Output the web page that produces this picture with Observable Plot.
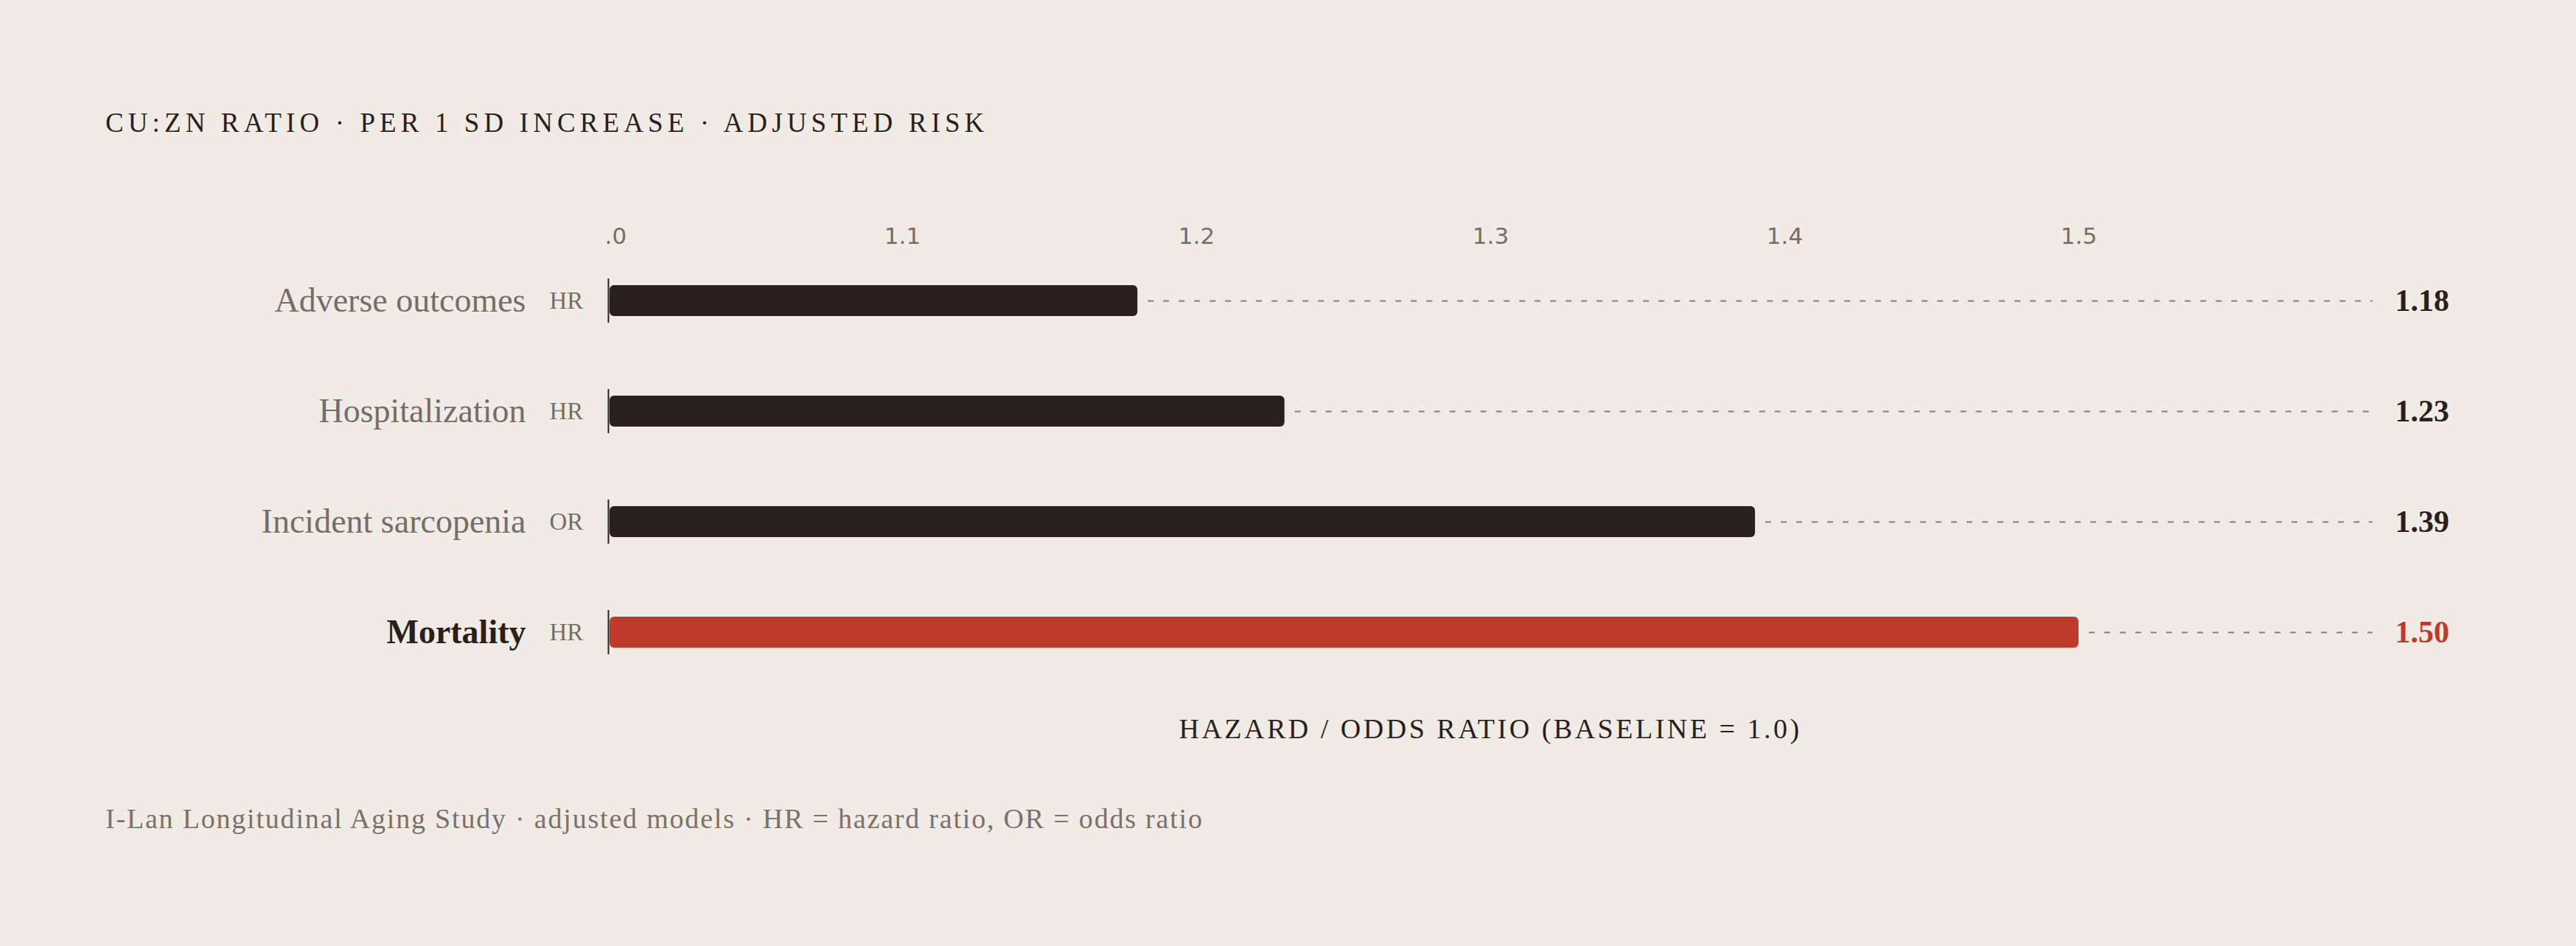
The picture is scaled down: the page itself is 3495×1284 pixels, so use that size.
<!DOCTYPE html>
<html>
<head>
<meta charset="utf-8">
<script src="https://cdn.jsdelivr.net/npm/d3@7"></script>
<script src="https://cdn.jsdelivr.net/npm/@observablehq/plot@0.6"></script>
<style>
  html, body { margin: 0; padding: 0; background: #f0ebe5; }
  #page { position: relative; width: 3495px; height: 1284px; overflow: hidden; background: #f0ebe5;
          font-family: "Liberation Serif", "DejaVu Serif", serif; }
  #title { position: absolute; left: 143px; top: 148px; font-size: 37px; line-height: 1; letter-spacing: 6.1px;
           color: #2a1f1c; white-space: nowrap; }
  #left { position: absolute; left: 0; top: 250px; }
  #right { position: absolute; left: 820px; top: 250px; }
  #xlabel { position: absolute; left: 825px; width: 2394px; top: 970px; text-align: center; font-size: 38px;
            line-height: 1; letter-spacing: 3.5px; color: #2a1f1c; white-space: nowrap; }
  #caption { position: absolute; left: 143px; top: 1092px; font-size: 38px; line-height: 1; letter-spacing: 1.8px;
             color: #7a716c; white-space: nowrap; }
  svg { overflow: hidden; }
</style>
</head>
<body>
<div id="page">
  <div id="title"></div>
  <div id="left"></div>
  <div id="right"></div>
  <div id="xlabel"></div>
  <div id="caption"></div>
</div>
<script>
// ---- data ----
const categories = ["Adverse outcomes", "Hospitalization", "Incident sarcopenia", "Mortality"];
const measureTypes = ["HR", "HR", "OR", "HR"];
const ratios = [1.18, 1.23, 1.39, 1.50];
const highlighted = ["Mortality"];
const xTicks = [1.0, 1.1, 1.2, 1.3, 1.4, 1.5];
const xDomain = [1.0, 1.6];
const titleText = "CU:ZN RATIO · PER 1 SD INCREASE · ADJUSTED RISK";
const xLabelText = "HAZARD / ODDS RATIO (BASELINE = 1.0)";
const captionText = "I-Lan Longitudinal Aging Study · adjusted models · HR = hazard ratio, OR = odds ratio";

// ---- styling ----
const DARK = "#2b1f1c";
const RED = "#c0392b";
const GRAY = "#766d68";
const DASH = "#857c78";
const FONT = "'Liberation Serif', 'DejaVu Serif', serif";
const SANS = "'DejaVu Sans', sans-serif";

const rows = categories.map((name, i) => ({
  name, type: measureTypes[i], value: ratios[i], hi: highlighted.includes(name)
}));

document.getElementById("title").textContent = titleText;
document.getElementById("xlabel").textContent = xLabelText;
document.getElementById("caption").textContent = captionText;

const H = 693, MT = 83, MB = 10;
const yOpts = { type: "band", domain: categories, padding: 0, axis: null };

// left label column
const left = Plot.plot({
  width: 820, height: H, marginTop: MT, marginBottom: MB, marginLeft: 0, marginRight: 0,
  style: { background: "transparent", fontFamily: FONT },
  x: { axis: null },
  y: yOpts,
  marks: [
    Plot.text(rows.filter(d => !d.hi), { y: "name", text: "name", frameAnchor: "right", textAnchor: "end",
      dx: -107, fontSize: 46, fill: GRAY }),
    Plot.text(rows.filter(d => d.hi), { y: "name", text: "name", frameAnchor: "right", textAnchor: "end",
      dx: -107, fontSize: 46, fontWeight: "bold", fill: DARK }),
    Plot.text(rows, { y: "name", text: "type", frameAnchor: "right", textAnchor: "start",
      dx: -75, fontSize: 33, fill: GRAY })
  ]
});
document.getElementById("left").append(left);

// bars
const right = Plot.plot({
  width: 2675, height: H, marginTop: MT, marginBottom: MB, marginLeft: 5, marginRight: 276,
  style: { background: "transparent", fontFamily: FONT, fontSize: "31px", overflow: "hidden" },
  x: { domain: xDomain, axis: null },
  y: yOpts,
  marks: [
    Plot.axisX({ anchor: "top", ticks: xTicks, tickFormat: d3.format(".1f"), tickSize: 0, tickPadding: 3,
      fontSize: 31, fontFamily: SANS, color: GRAY, label: null }),
    Plot.ruleY(rows, { y: "name", x1: "value", x2: () => xDomain[1], insetLeft: 14,
      stroke: DASH, strokeWidth: 2, strokeDasharray: "8,13" }),
    Plot.barX(rows, { y: "name", x1: () => xDomain[0], x2: "value", insetTop: 54, insetBottom: 54, insetLeft: 2,
      rx: 6, fill: d => d.hi ? RED : DARK }),
    Plot.tickX(rows, { x: () => xDomain[0], y: "name", insetTop: 45, insetBottom: 45, stroke: DARK, strokeWidth: 2 }),
    Plot.text(rows.filter(d => !d.hi), { y: "name", x: () => xDomain[1], text: d => d3.format(".2f")(d.value),
      textAnchor: "start", dx: 30, fontSize: 42, fontWeight: "bold", fill: DARK }),
    Plot.text(rows.filter(d => d.hi), { y: "name", x: () => xDomain[1], text: d => d3.format(".2f")(d.value),
      textAnchor: "start", dx: 30, fontSize: 42, fontWeight: "bold", fill: RED })
  ]
});
document.getElementById("right").append(right);
</script>
</body>
</html>
